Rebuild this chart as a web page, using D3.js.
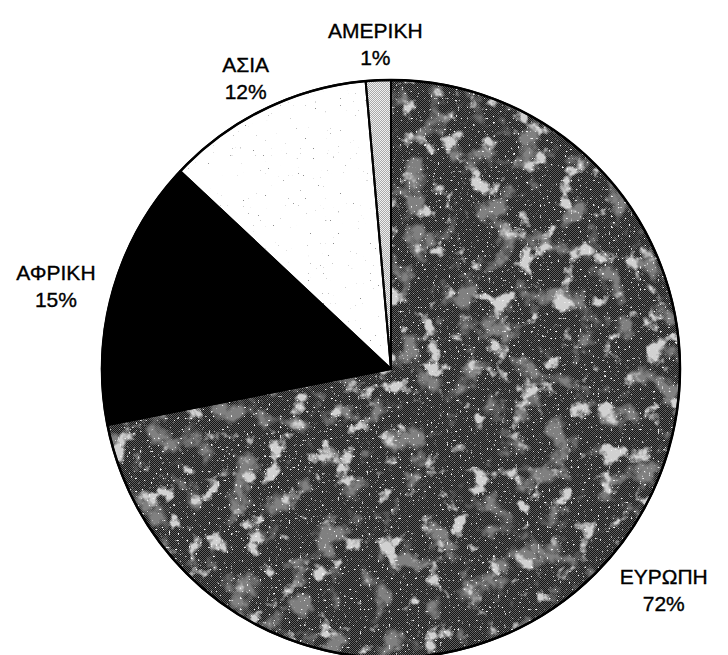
<!DOCTYPE html>
<html>
<head>
<meta charset="utf-8">
<script src="https://cdn.jsdelivr.net/npm/d3@7"></script>
<style>
  html, body { margin: 0; padding: 0; background: #fff; }
  svg { display: block; }
  text { font-family: "Liberation Sans", Arial, sans-serif; }
</style>
</head>
<body>
<svg id="chart" width="728" height="655"></svg>
<script>
// ---- data ----
const categories = ["ΕΥΡΩΠΗ", "ΑΦΡΙΚΗ", "ΑΣΙΑ", "ΑΜΕΡΙΚΗ"];
const values = [71.9, 15.1, 11.6, 1.4];
const percentLabels = ["72%", "15%", "12%", "1%"];

// ---- layout ----
const W = 728, H = 655;
const cx = 391, cy = 369, R = 289;
const fontSize = 21, lineH = 27, labelGap = 20, labelDy = 9;

const svg = d3.select("#chart");
const defs = svg.append("defs");

// textures
const checker = (id, a, b) => {
  const p = defs.append("pattern").attr("id", id).attr("patternUnits", "userSpaceOnUse")
    .attr("width", 2).attr("height", 2);
  p.append("rect").attr("width", 2).attr("height", 2).attr("fill", a);
  p.append("rect").attr("width", 1).attr("height", 1).attr("fill", b);
  p.append("rect").attr("x", 1).attr("y", 1).attr("width", 1).attr("height", 1).attr("fill", b);
};
checker("euBase", "#141414", "#5e5e5e");
checker("amBase", "#a8a8a8", "#f0f0f0");

const mkFilter = (id, freq, oct, seed, rgb, aMul, aOff) => {
  const f = defs.append("filter").attr("id", id)
    .attr("filterUnits", "userSpaceOnUse")
    .attr("x", 0).attr("y", 0).attr("width", W).attr("height", H)
    .attr("color-interpolation-filters", "sRGB");
  f.append("feTurbulence").attr("type", "fractalNoise").attr("baseFrequency", freq)
    .attr("numOctaves", oct).attr("seed", seed).attr("result", "n");
  f.append("feColorMatrix").attr("in", "n").attr("type", "matrix")
    .attr("values", `0 0 0 0 ${rgb}  0 0 0 0 ${rgb}  0 0 0 0 ${rgb}  ${aMul} 0 0 0 ${aOff}`)
    .attr("result", "b");
  f.append("feComposite").attr("in", "b").attr("in2", "SourceGraphic").attr("operator", "in");
};
mkFilter("euMid", 0.035, 4, 5, 0.5, 6, -3.25);
mkFilter("euBlotch", 0.045, 4, 7, 0.82, 8, -4.8);
mkFilter("euSpeck", 0.45, 1, 3, 0.95, 14, -9.4);
mkFilter("asSpeck", 0.6, 1, 11, 0.55, 16, -11.8);

const pie = d3.pie().sort(null).value(d => d)(values);
const arc = d3.arc().innerRadius(0).outerRadius(R);

const g = svg.append("g").attr("transform", `translate(${cx},${cy})`);
const baseFills = ["url(#euBase)", "#000000", "#ffffff", "url(#amBase)"];

g.selectAll("path.slice").data(pie).join("path")
  .attr("class", "slice")
  .attr("d", arc)
  .attr("fill", (d, i) => baseFills[i]);

// texture overlays (filter space in page coordinates)
const og = svg.append("g");
[["euMid", 0], ["euBlotch", 0], ["euSpeck", 0], ["asSpeck", 2]].forEach(([fid, idx]) => {
  og.append("g").attr("filter", `url(#${fid})`)
    .append("path").attr("transform", `translate(${cx},${cy})`)
    .attr("d", arc(pie[idx])).attr("fill", "#fff");
});

// outlines
svg.append("g").attr("transform", `translate(${cx},${cy})`)
  .selectAll("path").data(pie).join("path")
  .attr("d", arc).attr("fill", "none")
  .attr("stroke", "#000").attr("stroke-width", 2).attr("stroke-linejoin", "round");
svg.append("circle").attr("cx", cx).attr("cy", cy).attr("r", R)
  .attr("fill", "none").attr("stroke", "#000").attr("stroke-width", 2.5);

// labels
const lg = svg.append("g");
pie.forEach((d, i) => {
  const a = (d.startAngle + d.endAngle) / 2;
  const s = Math.sin(a), c = -Math.cos(a);
  const t = lg.append("text").attr("text-anchor", "middle")
    .attr("font-size", fontSize).attr("fill", "#000")
    .attr("stroke", "#000").attr("stroke-width", 0.35);
  t.append("tspan").attr("x", 0).attr("y", 0).text(categories[i]);
  t.append("tspan").attr("x", 0).attr("y", lineH).text(percentLabels[i]);
  const bb = t.node().getBBox();
  const rr = R + labelGap;
  const px = cx + rr * s + s * bb.width / 2;
  const py = cy + rr * c + c * bb.height / 2 + labelDy;
  const ox = px - (bb.x + bb.width / 2);
  const oy = py - (bb.y + bb.height / 2);
  t.attr("transform", `translate(${ox},${oy})`);
});
</script>
</body>
</html>
